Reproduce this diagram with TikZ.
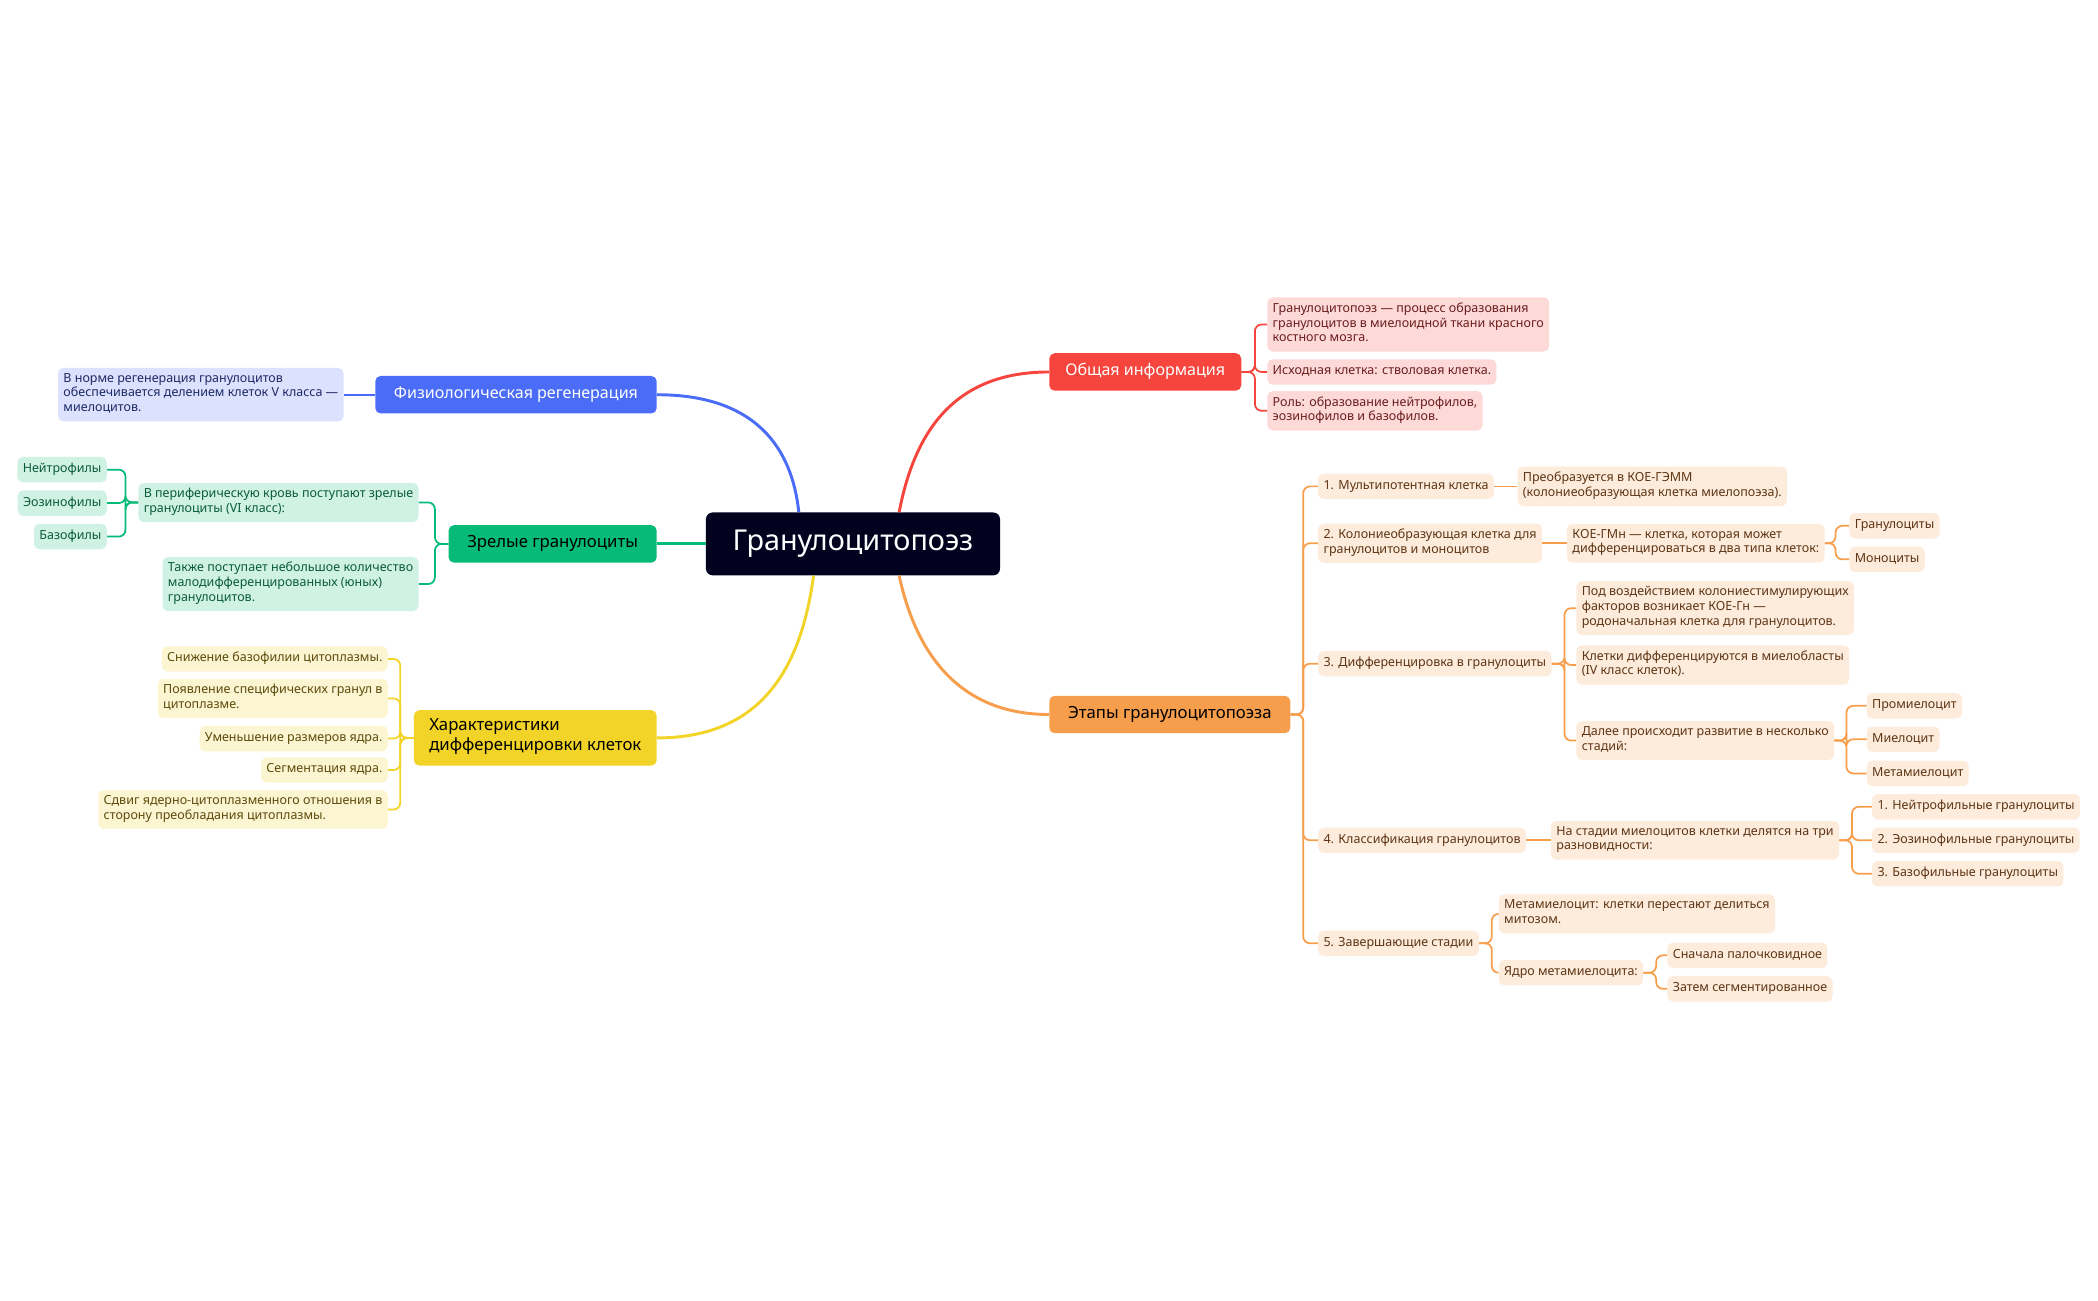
\documentclass[tikz,border=0pt]{standalone}
\usepackage{fontspec}
\setmainfont{Noto Sans}
\usetikzlibrary{positioning}

\definecolor{root_fill}{HTML}{02021F}
\definecolor{blue_main}{HTML}{4A6CF7}
\definecolor{blue_leaf}{HTML}{DCE1FD}
\definecolor{blue_text}{HTML}{1F2A66}
\definecolor{green_main}{HTML}{06BA78}
\definecolor{green_leaf}{HTML}{D0F2E4}
\definecolor{green_text}{HTML}{0B5C3B}
\definecolor{yellow_main}{HTML}{F2D327}
\definecolor{yellow_leaf}{HTML}{FCF5D2}
\definecolor{yellow_text}{HTML}{5C4B0C}
\definecolor{red_main}{HTML}{F6453D}
\definecolor{red_leaf}{HTML}{FDD9D8}
\definecolor{red_text}{HTML}{6B1E1E}
\definecolor{orange_main}{HTML}{F79E4C}
\definecolor{orange_leaf}{HTML}{FDEBDB}
\definecolor{orange_text}{HTML}{5E3616}

\begin{document}
\begin{tikzpicture}[x=1pt, y=-1pt,
    main/.style={rectangle, rounded corners=4pt, inner xsep=14pt, inner ysep=6.5pt,
                 font=\fontsize{12.5}{15}\selectfont, align=left,
                 execute at begin node=\strut, execute at end node=\strut},
    main_bold/.style={main, text=white, font=\fontsize{12}{15}\selectfont\bfseries},
    leaf/.style={rectangle, rounded corners=4pt, inner xsep=4pt, inner ysep=4pt,
                 font=\fontsize{9.35}{11}\selectfont, align=left,
                 execute at begin node=\strut, execute at end node=\strut},
    blue_box/.style={leaf, fill=blue_leaf, text=blue_text},
    green_box/.style={leaf, fill=green_leaf, text=green_text},
    yellow_box/.style={leaf, fill=yellow_leaf, text=yellow_text},
    red_box/.style={leaf, fill=red_leaf, text=red_text},
    orange_box/.style={leaf, fill=orange_leaf, text=orange_text},
    curve/.style={line width=2.2pt},
    link/.style={line width=1.3pt, rounded corners=5pt}]

    \useasboundingbox (0,0) rectangle (1568,971.6);

    \node (root) [rectangle, rounded corners=5pt, fill=root_fill, text=white,
                  inner xsep=20pt, inner ysep=11.5pt,
                  font=\fontsize{21.5}{24}\selectfont,
                  execute at begin node=\strut]
          at (637.5,406.5) {Гранулоцитопоэз};

    % left side
    \node (physio) [main_bold, fill=blue_main, anchor=east]
          at (491,295) {Физиологическая регенерация};
    \node (physio_note) [blue_box, anchor=east] at (257,295)
          {В норме регенерация гранулоцитов\\обеспечивается делением клеток V класса —\\миелоцитов.};

    \node (mature) [main, fill=green_main, text=black, anchor=east]
          at (491,406.5) {Зрелые гранулоциты};
    \node (mature_blood) [green_box, anchor=east] at (313,375.5)
          {В периферическую кровь поступают зрелые\\гранулоциты (VI класс):};
    \node (mature_young) [green_box, anchor=east] at (313,436.5)
          {Также поступает небольшое количество\\малодифференцированных (юных)\\гранулоцитов.};
    \node (neutrophils) [green_box, anchor=east] at (80,351) {Нейтрофилы};
    \node (eosinophils) [green_box, anchor=east] at (80,376) {Эозинофилы};
    \node (basophils) [green_box, anchor=east] at (80,401) {Базофилы};

    \node (traits) [main, fill=yellow_main, text=black, inner xsep=11.5pt, anchor=east]
          at (491,551.5) {Характеристики\\дифференцировки клеток};
    \node (traits_a) [yellow_box, anchor=east] at (290,492.5) {Снижение базофилии цитоплазмы.};
    \node (traits_b) [yellow_box, anchor=east] at (290,522)
          {Появление специфических гранул в\\цитоплазме.};
    \node (traits_c) [yellow_box, anchor=east] at (290,552) {Уменьшение размеров ядра.};
    \node (traits_d) [yellow_box, anchor=east] at (290,575.5) {Сегментация ядра.};
    \node (traits_e) [yellow_box, anchor=east] at (290,605)
          {Сдвиг ядерно-цитоплазменного отношения в\\сторону преобладания цитоплазмы.};

    % right side
    \node (general_info) [main_bold, fill=red_main, inner xsep=12pt, anchor=west]
          at (784,278) {Общая информация};
    \node (gi_def) [red_box, anchor=west] at (947,242.5)
          {Гранулоцитопоэз — процесс образования\\гранулоцитов в миелоидной ткани красного\\костного мозга.};
    \node (gi_source) [red_box, anchor=west] at (947,278) {Исходная клетка: стволовая клетка.};
    \node (gi_role) [red_box, anchor=west] at (947,307)
          {Роль: образование нейтрофилов,\\эозинофилов и базофилов.};

    \node (stages) [main, fill=orange_main, text=black, anchor=west]
          at (784,534) {Этапы гранулоцитопоэза};

    \node (st_one) [orange_box, anchor=west] at (985,363.5) {1. Мультипотентная клетка};
    \node (st_one_a) [orange_box, anchor=west] at (1134,363.5)
          {Преобразуется в КОЕ-ГЭММ\\(колониеобразующая клетка миелопоэза).};

    \node (st_two) [orange_box, anchor=west] at (985,406)
          {2. Колониеобразующая клетка для\\гранулоцитов и моноцитов};
    \node (st_two_a) [orange_box, anchor=west] at (1171,406)
          {КОЕ-ГМн — клетка, которая может\\дифференцироваться в два типа клеток:};
    \node (granulocytes) [orange_box, anchor=west] at (1382,393) {Гранулоциты};
    \node (monocytes) [orange_box, anchor=west] at (1382,418) {Моноциты};

    \node (st_three) [orange_box, anchor=west] at (985,496) {3. Дифференцировка в гранулоциты};
    \node (st_three_a) [orange_box, anchor=west] at (1178,454.5)
          {Под воздействием колониестимулирующих\\факторов возникает КОЕ-Гн —\\родоначальная клетка для гранулоцитов.};
    \node (st_three_b) [orange_box, anchor=west] at (1178,497)
          {Клетки дифференцируются в миелобласты\\(IV класс клеток).};
    \node (st_three_c) [orange_box, anchor=west] at (1178,553.5)
          {Далее происходит развитие в несколько\\стадий:};
    \node (promyelocyte) [orange_box, anchor=west] at (1395,527.5) {Промиелоцит};
    \node (myelocyte) [orange_box, anchor=west] at (1395,552.5) {Миелоцит};
    \node (metamyelocyte) [orange_box, anchor=west] at (1395,578) {Метамиелоцит};

    \node (st_four) [orange_box, anchor=west] at (985,628) {4. Классификация гранулоцитов};
    \node (st_four_a) [orange_box, anchor=west] at (1159,628)
          {На стадии миелоцитов клетки делятся на три\\разновидности:};
    \node (neutro_gr) [orange_box, anchor=west] at (1399,603) {1. Нейтрофильные гранулоциты};
    \node (eosino_gr) [orange_box, anchor=west] at (1399,628) {2. Эозинофильные гранулоциты};
    \node (baso_gr) [orange_box, anchor=west] at (1399,653) {3. Базофильные гранулоциты};

    \node (st_five) [orange_box, anchor=west] at (985,705) {5. Завершающие стадии};
    \node (st_five_a) [orange_box, anchor=west] at (1120,683)
          {Метамиелоцит: клетки перестают делиться\\митозом.};
    \node (st_five_b) [orange_box, anchor=west] at (1120,727) {Ядро метамиелоцита:};
    \node (rod_nucleus) [orange_box, anchor=west] at (1246,714) {Сначала палочковидное};
    \node (seg_nucleus) [orange_box, anchor=west] at (1246,739) {Затем сегментированное};

    % main branches
    \draw[curve, blue_main] (physio.east) .. controls (565,295) and (592,335) .. ([xshift=-40.5pt]root.north);
    \draw[curve, red_main] ([xshift=34.5pt]root.north) .. controls (684,320) and (715,278) .. (general_info.west);
    \draw[curve, green_main] (root.west) -- (mature.east);
    \draw[curve, yellow_main] ([xshift=-29.5pt]root.south) .. controls (598,505) and (565,551.5) .. (traits.east);
    \draw[curve, orange_main] ([xshift=34.5pt]root.south) .. controls (686,495) and (722,534) .. (stages.west);

    % sub branches
    \draw[link, blue_main] (physio.west) -- (physio_note.east);
    \foreach \leaf in {mature_blood,mature_young}
        \draw[link, green_main] (mature.west) -- ++(-10,0) |- (\leaf.east);
    \foreach \leaf in {neutrophils,eosinophils,basophils}
        \draw[link, green_main] (mature_blood.west) -- ++(-9.5,0) |- (\leaf.east);
    \foreach \leaf in {traits_a,traits_b,traits_c,traits_d,traits_e}
        \draw[link, yellow_main] (traits.west) -- ++(-10,0) |- (\leaf.east);

    \foreach \leaf in {gi_def,gi_source,gi_role}
        \draw[link, red_main] (general_info.east) -- ++(10,0) |- (\leaf.west);
    \foreach \leaf in {st_one,st_two,st_three,st_four,st_five}
        \draw[link, orange_main] (stages.east) -- ++(9.5,0) |- (\leaf.west);
    \draw[link, orange_main] (st_one.east) -- (st_one_a.west);
    \draw[link, orange_main] (st_two.east) -- (st_two_a.west);
    \foreach \leaf in {granulocytes,monocytes}
        \draw[link, orange_main] (st_two_a.east) -- ++(8,0) |- (\leaf.west);
    \foreach \leaf in {st_three_a,st_three_b,st_three_c}
        \draw[link, orange_main] (st_three.east) -- ++(9.5,0) |- (\leaf.west);
    \foreach \leaf in {promyelocyte,myelocyte,metamyelocyte}
        \draw[link, orange_main] (st_three_c.east) -- ++(9,0) |- (\leaf.west);
    \draw[link, orange_main] (st_four.east) -- (st_four_a.west);
    \foreach \leaf in {neutro_gr,eosino_gr,baso_gr}
        \draw[link, orange_main] (st_four_a.east) -- ++(9.5,0) |- (\leaf.west);
    \foreach \leaf in {st_five_a,st_five_b}
        \draw[link, orange_main] (st_five.east) -- ++(9.5,0) |- (\leaf.west);
    \foreach \leaf in {rod_nucleus,seg_nucleus}
        \draw[link, orange_main] (st_five_b.east) -- ++(9.5,0) |- (\leaf.west);
\end{tikzpicture}
\end{document}
